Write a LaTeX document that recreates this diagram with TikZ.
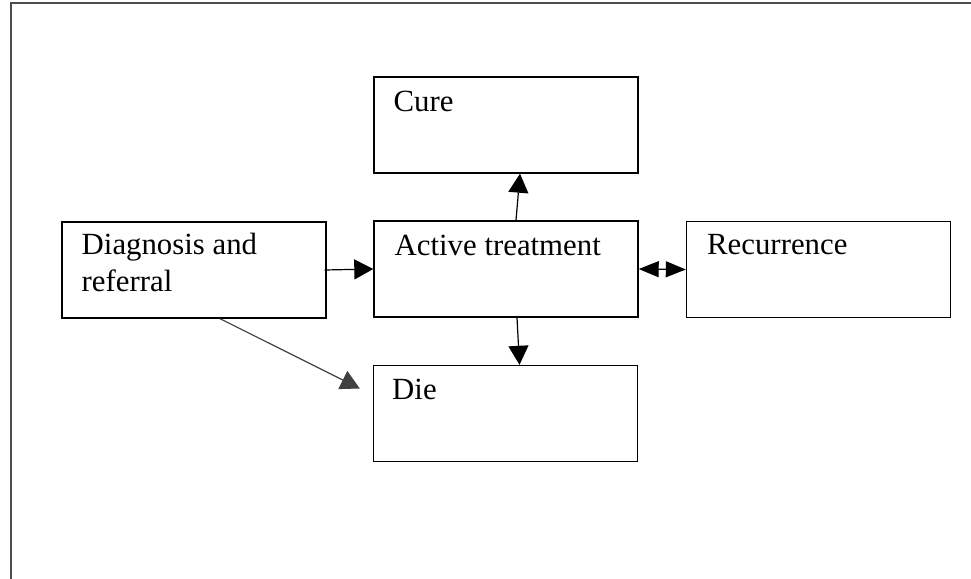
\documentclass[tikz,border=0pt]{standalone}
\usepackage{fontspec}
\setmainfont{Liberation Serif}
\usetikzlibrary{arrows.meta}
\begin{document}
\begin{tikzpicture}[x=0.5pt,y=-0.5pt,
    box/.style={draw,line width=0.7pt,minimum width=132pt,minimum height=48pt,inner sep=0pt},
    txt/.style={anchor=base west,inner sep=0pt,align=left,font=\fontsize{15.4}{18.5}\selectfont},
    arr/.style={line width=0.6pt,-{Triangle[length=9.5pt,width=10pt]}}]
    \useasboundingbox (0,0) rectangle (971,579);
    \draw[line width=1pt,black!70] (11,579) -- (11,3) -- (971,3);
    \node[box] (diag) at (194,270) {};
    \node[box] (act) at (506,269) {};
    \node[box] (cure) at (506,125) {};
    \node[box] (rec) at (818.5,269.5) {};
    \node[box] (die) at (505.5,413.5) {};
    \node[txt] (diagtext) at ([shift={(20,70)}]diag.north west) {Diagnosis and\\referral};
    \node[txt] (acttext) at ([shift={(21,35)}]act.north west) {Active treatment};
    \node[txt] (curetext) at ([shift={(20,35)}]cure.north west) {Cure};
    \node[txt] (rectext) at ([shift={(21,34)}]rec.north west) {Recurrence};
    \node[txt] (dietext) at ([shift={(19,35)}]die.north west) {Die};
    \draw[arr] ([xshift=-1pt]diag.east) -- (act.west);
    \draw[arr] ([xshift=5pt]act.north) -- ([xshift=7pt]cure.south);
    \draw[arr] ([xshift=5.5pt]act.south) -- ([xshift=7pt]die.north);
    \draw[line width=0.6pt,{Triangle[length=10pt,width=8pt]}-{Triangle[length=10pt,width=8pt]}] (act.east) -- (rec.west);
    \draw[arr,black!75] ([xshift=13pt]diag.south) -- ([shift={(-13,-25)}]die.west);
\end{tikzpicture}
\end{document}
